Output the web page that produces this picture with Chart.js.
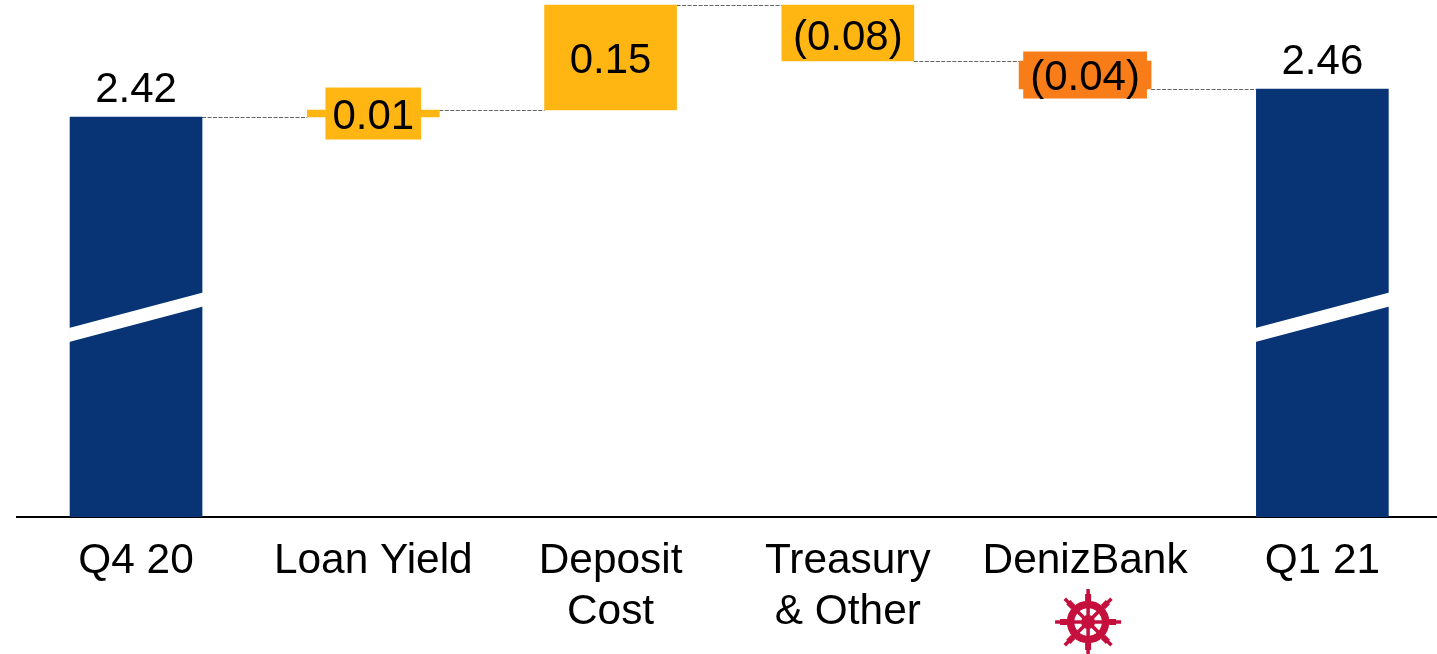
<!DOCTYPE html>
<html>
<head>
<meta charset="utf-8">
<title>NIM walk</title>
<script src="https://cdn.jsdelivr.net/npm/chart.js@4"></script>
<style>
  html, body { margin: 0; padding: 0; background: #fff; overflow: hidden; }
  canvas { display: block; }
</style>
</head>
<body>
<canvas id="walkChart" width="1441" height="654"></canvas>
<script>
const categories = ['Q4 20', 'Loan Yield', ['Deposit', 'Cost'], ['Treasury', '& Other'], 'DenizBank', 'Q1 21'];
const axisFloor = 1.8486;
const barStart = [axisFloor, 2.42, 2.43, 2.58, 2.50, axisFloor];
const barEnd = [2.42, 2.43, 2.58, 2.50, 2.46, 2.46];
const valueLabels = ['2.42', '0.01', '0.15', '(0.08)', '(0.04)', '2.46'];

const NAVY = '#083476';
const YELLOW = '#FFB612';
const ORANGE = '#F87C18';
const barColors = [NAVY, YELLOW, YELLOW, YELLOW, ORANGE, NAVY];
const FONT = '"Liberation Sans", Arial, sans-serif';
// small nudges so the text sits where it does in the source slide
const labelNudge = [-27, 4, 4, 5, 3, -27];

// dashed connectors between neighbouring bars
const connectorPlugin = {
  id: 'connectors',
  beforeDatasetsDraw(chart) {
    const ctx = chart.ctx;
    const bars = chart.getDatasetMeta(0).data;
    const y = chart.scales.y;
    ctx.save();
    ctx.strokeStyle = '#666';
    ctx.lineWidth = 1;
    ctx.setLineDash([4, 1.5]);
    for (let i = 0; i < bars.length - 1; i++) {
      const py = Math.round(y.getPixelForValue(barEnd[i])) + 0.5;
      ctx.beginPath();
      ctx.moveTo(bars[i].x + bars[i].width / 2, py);
      ctx.lineTo(bars[i + 1].x - bars[i + 1].width / 2, py);
      ctx.stroke();
    }
    ctx.restore();
  }
};

// white slanted strip on the two total bars, the axis break
const breakPlugin = {
  id: 'axisBreak',
  afterDatasetsDraw(chart) {
    const ctx = chart.ctx;
    const bottom = chart.chartArea.bottom;
    const bars = chart.getDatasetMeta(0).data;
    [0, 5].forEach(i => {
      const left = bars[i].x - bars[i].width / 2 - 1;
      const right = bars[i].x + bars[i].width / 2 + 1;
      ctx.save();
      ctx.fillStyle = '#fff';
      ctx.beginPath();
      ctx.moveTo(left, bottom - 189);
      ctx.lineTo(right, bottom - 224.5);
      ctx.lineTo(right, bottom - 210.5);
      ctx.lineTo(left, bottom - 175);
      ctx.closePath();
      ctx.fill();
      ctx.restore();
    });
  }
};

// value labels, the two thin bars get a box behind the text
const labelPlugin = {
  id: 'valueLabels',
  afterDatasetsDraw(chart) {
    const ctx = chart.ctx;
    const bars = chart.getDatasetMeta(0).data;
    ctx.save();
    ctx.font = '42px ' + FONT;
    ctx.textAlign = 'center';
    ctx.textBaseline = 'middle';
    bars.forEach((bar, i) => {
      const isTotal = i === 0 || i === 5;
      const top = Math.min(bar.y, bar.base);
      const mid = (bar.y + bar.base) / 2;
      const textY = (isTotal ? top : mid) + labelNudge[i];
      if (i === 1 || i === 4) {
        const w = ctx.measureText(valueLabels[i]).width + 14;
        const h = i === 1 ? 52 : 47;
        ctx.fillStyle = barColors[i];
        ctx.fillRect(bar.x - w / 2, mid - h / 2, w, h);
      }
      ctx.fillStyle = '#000';
      ctx.fillText(valueLabels[i], bar.x, textY);
    });
    ctx.restore();
  }
};

// ship wheel under the DenizBank label
const wheelPlugin = {
  id: 'wheel',
  afterDraw(chart) {
    const ctx = chart.ctx;
    const cx = chart.scales.x.getPixelForTick(4) + 3;
    const cy = 622;
    ctx.save();
    ctx.strokeStyle = '#C50F3C';
    ctx.fillStyle = '#C50F3C';
    for (let k = 0; k < 8; k++) {
      const a = k * Math.PI / 4 + Math.PI / 8 * 0;
      ctx.lineWidth = 3.5;
      ctx.beginPath();
      ctx.moveTo(cx, cy);
      ctx.lineTo(cx + Math.cos(a) * 33, cy + Math.sin(a) * 33);
      ctx.stroke();
      ctx.lineWidth = 6;
      ctx.beginPath();
      ctx.moveTo(cx + Math.cos(a) * 21, cy + Math.sin(a) * 21);
      ctx.lineTo(cx + Math.cos(a) * 28, cy + Math.sin(a) * 28);
      ctx.stroke();
    }
    ctx.lineWidth = 7.5;
    ctx.beginPath();
    ctx.arc(cx, cy, 17.5, 0, Math.PI * 2);
    ctx.stroke();
    ctx.beginPath();
    ctx.arc(cx, cy, 7, 0, Math.PI * 2);
    ctx.fill();
    ctx.restore();
  }
};

new Chart(document.getElementById('walkChart').getContext('2d'), {
  type: 'bar',
  data: {
    labels: categories,
    datasets: [{
      data: barStart.map((start, i) => [start, barEnd[i]]),
      backgroundColor: barColors,
      borderWidth: 0,
      borderSkipped: false,
      barThickness: 132
    }]
  },
  options: {
    responsive: false,
    animation: false,
    layout: { padding: { left: 17.4, right: 0, top: 0, bottom: 0 } },
    plugins: { legend: { display: false }, tooltip: { enabled: false } },
    scales: {
      y: {
        display: false,
        min: axisFloor,
        max: axisFloor + 517 / 700
      },
      x: {
        afterFit(scale) { scale.height = 137; },
        grid: { display: false },
        border: { display: true, color: '#000', width: 2 },
        ticks: {
          color: '#000',
          font: { family: FONT, size: 42.4, lineHeight: 1.205 },
          padding: 11,
          autoSkip: false,
          maxRotation: 0,
          minRotation: 0
        }
      }
    }
  },
  plugins: [connectorPlugin, breakPlugin, labelPlugin, wheelPlugin]
});
</script>
</body>
</html>
